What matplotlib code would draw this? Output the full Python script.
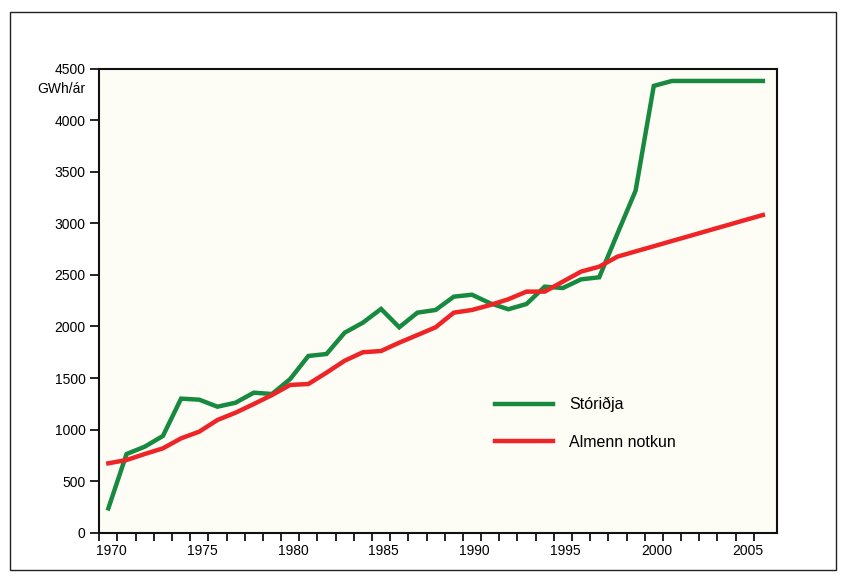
import matplotlib.pyplot as plt
from matplotlib.patches import Rectangle

plt.rcParams['font.family'] = ['Liberation Sans', 'DejaVu Sans']

years = list(range(1970, 2007))
storidja = [236, 763, 834, 938, 1300, 1290, 1222, 1261, 1358, 1345,
            1490, 1714, 1733, 1940, 2037, 2170, 1992, 2134, 2160, 2289,
            2308, 2225, 2167, 2218, 2386, 2373, 2457, 2477, 2900, 3317,
            4333, 4381, 4381, 4381, 4381, 4381, 4381]
almenn = [673, 705, 763, 818, 915, 980, 1093, 1164, 1248, 1335,
          1433, 1442, 1552, 1668, 1750, 1762, 1843, 1917, 1992, 2134,
          2160, 2208, 2264, 2338, 2338, 2435, 2532, 2580, 2677, 2728,
          2778, 2829, 2879, 2930, 2980, 3031, 3081]
label_years = [1970, 1975, 1980, 1985, 1990, 1995, 2000, 2005]
y_ticks = [0, 500, 1000, 1500, 2000, 2500, 3000, 3500, 4000, 4500]

fig = plt.figure(figsize=(8.47, 5.85), dpi=100)
ax = fig.add_axes([0.1172, 0.0894, 0.8002, 0.7932])
ax.set_facecolor('#fdfdf6')

# outer frame round the whole picture
fig.patches.append(Rectangle((0.012, 0.026), 0.975, 0.953, transform=fig.transFigure,
                             fill=False, edgecolor='#222222', linewidth=1.0))

# category axis: points sit in the middle of each year slot
xs = [y - 1970 + 0.5 for y in years]
ax.plot(xs, storidja, color='#188a3f', lw=3.2, solid_joinstyle='miter', label='Stóriðja')
ax.plot(xs, almenn, color='#ee2426', lw=3.2, solid_joinstyle='miter', label='Almenn notkun')

ax.set_xlim(0, 37.28)
ax.set_ylim(0, 4500)

ax.set_xticks(range(0, 37))
ax.set_xticklabels([])
ax.set_xticks([y - 1970 + 0.65 for y in label_years], [str(y) for y in label_years], minor=True)
ax.tick_params(axis='x', which='major', length=6, width=1.2, direction='out')
ax.tick_params(axis='x', which='minor', length=0, pad=8, labelsize=10)

ax.set_yticks(y_ticks)
ax.tick_params(axis='y', length=6.5, width=1.2, pad=3.5, labelsize=10)

for s in ax.spines.values():
    s.set_linewidth(1.5)
    s.set_color('#111111')

ax.text(-0.021, 0.957, 'GWh/ár', transform=ax.transAxes, ha='right', va='center', fontsize=10)

ax.legend(loc='upper left', bbox_to_anchor=(0.584, 0.292), frameon=False,
          handlelength=3.6, handletextpad=1.05, labelspacing=1.4,
          borderpad=0, borderaxespad=0, fontsize=11.5)

fig.savefig('out.png', dpi=100)
